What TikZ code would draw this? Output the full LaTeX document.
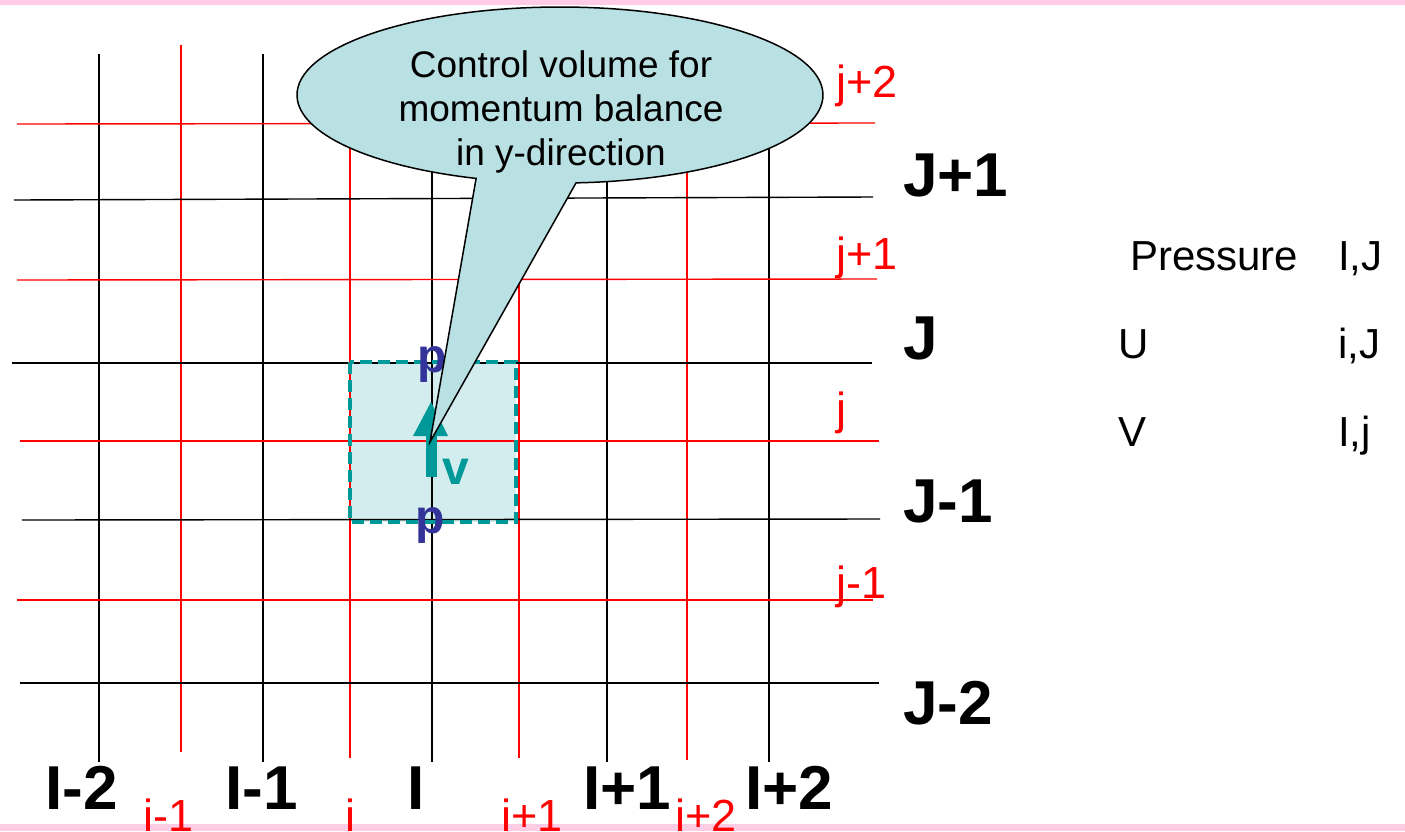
\documentclass[tikz,border=0pt]{standalone}
\usepackage{fontspec}
\setmainfont{Liberation Sans}
\definecolor{pinkband}{HTML}{FFCCE6}
\definecolor{callfill}{HTML}{B9E0E3}
\definecolor{cvfill}{HTML}{D3EDEE}
\definecolor{tealc}{HTML}{009999}
\definecolor{pblue}{HTML}{333399}
\begin{document}
\begin{tikzpicture}[x=1pt,y=-1pt,
  blk/.style={black, line width=1.4pt},
  rd/.style={red, line width=1.4pt},
  biglab/.style={font=\fontsize{62}{68}\selectfont\bfseries, anchor=base west, inner sep=0pt},
  redlab/.style={font=\fontsize{45}{50}\selectfont, text=red, anchor=base west, inner sep=0pt},
  legend/.style={font=\fontsize{42}{48}\selectfont, anchor=base west, inner sep=0pt},
  plab/.style={font=\fontsize{48}{52}\selectfont\bfseries, text=pblue, anchor=base, inner sep=0pt},
  cvbox/.style={draw=tealc, line width=3.2pt, dash pattern=on 12pt off 6pt},
  callout/.style={draw=black, line width=1.5pt, fill=callfill, line join=miter}
]
\useasboundingbox (0,0) rectangle (1405,831);
\fill[white] (0,0) rectangle (1405,831);
% pink bands
\fill[pinkband] (0,0) rectangle (1405,5);
\fill[pinkband] (0,824) rectangle (1405,831);
% control volume fill
\fill[cvfill] (350,362) rectangle (516,522);
% black grid lines (vertical)
\foreach \x in {99,263,432,607,769} \draw[blk] (\x,54) -- (\x,762);
% red grid lines (vertical)
\foreach \x/\e in {181/752,350/758,519/758,687/760} \draw[rd] (\x,45) -- (\x,\e);
% black horizontal lines
\draw[blk] (14,200) -- (873,197);
\draw[blk] (12,363) -- (872,363);
\draw[blk] (22,520) -- (880,519);
\draw[blk] (20,683) -- (879,683);
% red horizontal lines
\draw[rd] (17,124) -- (875,123);
\draw[rd] (17,280) -- (877,279);
\draw[rd] (20,441) -- (879,441);
\draw[rd] (17,600) -- (873,600);
% control volume border
\draw[cvbox] (350,362) rectangle (516,522);
% v arrow
\fill[tealc] (426,436) rectangle (437,477);
\fill[tealc] (413,436) -- (431,402) -- (448,436) -- cycle;
% p and v labels
\node[plab] (ptop) at (432,372) {p};
\node[plab] (pbot) at (430,533) {p};
\node[font=\fontsize{48}{52}\selectfont\bfseries, text=tealc, anchor=base west, inner sep=0pt] (vlab) at (442,484) {v};
% callout
\coordinate (tip) at (430,442);
\path[callout] (576.05,182.84) arc[start angle=86.5, end angle=-251.4, x radius=263, y radius=88] -- (tip) -- cycle;
\node[font=\fontsize{37}{44}\selectfont, align=center, inner sep=0pt] (calltext) at (561,112)
  {Control volume for\\momentum balance\\in y-direction};
% right-hand black labels
\node[biglab] (Jp1) at (903,196) {J+1};
\node[biglab] (J0) at (903,359) {J};
\node[biglab] (Jm1) at (903,522) {J-1};
\node[biglab] (Jm2) at (903,724) {J-2};
% red j labels
\node[redlab] (jp2) at (836,97) {j+2};
\node[redlab] (jp1) at (836,269) {j+1};
\node[redlab] (j0) at (836,424) {j};
\node[redlab] (jm1) at (836,598) {j-1};
% bottom black labels
\node[biglab] (Im2) at (45,809) {I-2};
\node[biglab] (Im1) at (225,809) {I-1};
\node[biglab] (I0) at (407,809) {I};
\node[biglab] (Ip1) at (583,809) {I+1};
\node[biglab] (Ip2) at (745,809) {I+2};
% bottom red labels (drawn over the pink band, cut by the edge)
\node[redlab] (im1) at (143,831) {i-1};
\node[redlab] (i0) at (345,831) {i};
\node[redlab] (ip1) at (501,831) {i+1};
\node[redlab] (ip2) at (675,831) {i+2};
% legend
\node[legend] (pres) at (1130,270) {Pressure};
\node[legend] (presidx) at (1338,270) {I,J};
\node[legend] (ulab) at (1118,358) {U};
\node[legend] (uidx) at (1338,358) {i,J};
\node[legend] (vleg) at (1118,446) {V};
\node[legend] (vidx) at (1338,446) {I,j};
\end{tikzpicture}
\end{document}
